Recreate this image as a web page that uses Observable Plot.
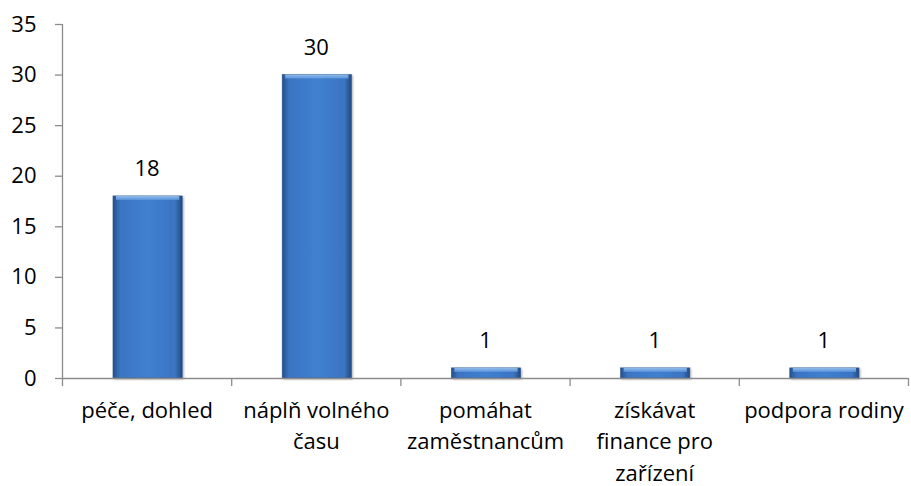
<!DOCTYPE html>
<html><head><meta charset="utf-8">
<script src="https://cdn.jsdelivr.net/npm/d3@7"></script>
<script src="https://cdn.jsdelivr.net/npm/@observablehq/plot@0.6"></script>
<style>body{margin:0;background:#fff}</style>
</head><body><div id="chart"></div>
<script>
const categories = ["péče, dohled", "náplň volného\nčasu", "pomáhat\nzaměstnancům", "získávat\nfinance pro\nzařízení", "podpora rodiny"];
const values = [18, 30, 1, 1, 1];
const yTicks = [0, 5, 10, 15, 20, 25, 30, 35];

const data = categories.map((c, i) => ({i, c, v: values[i]}));
const font = "'Open Sans', sans-serif";
const fs = 22;

const withShadow = (index, scales, values, dims, context, next) => {
  const g = next(index, scales, values, dims, context);
  g.setAttribute("filter", "url(#sh)");
  return g;
};

const chart = Plot.plot({
  width: 911, height: 486,
  marginLeft: 62, marginRight: 3, marginTop: 24, marginBottom: 108,
  style: {fontFamily: font, fontSize: fs + "px", color: "#000", background: "#fff", overflow: "visible"},
  x: {type: "linear", domain: [0, categories.length], axis: null},
  y: {domain: [0, 35], axis: null},
  marks: [
    () => {
      const ns = "http://www.w3.org/2000/svg";
      const defs = document.createElementNS(ns, "defs");
      defs.innerHTML = `
        <linearGradient id="gb" x1="0" x2="1" y1="0" y2="0">
          <stop offset="0" stop-color="#24508c"/>
          <stop offset="0.1" stop-color="#3a74c2"/>
          <stop offset="0.5" stop-color="#4080d0"/>
          <stop offset="0.9" stop-color="#3a74c2"/>
          <stop offset="1" stop-color="#22497f"/>
        </linearGradient>
        <linearGradient id="gt" x1="0" x2="0" y1="0" y2="1">
          <stop offset="0" stop-color="#a9cdf5"/>
          <stop offset="1" stop-color="#5f98de"/>
        </linearGradient>
        <filter id="sh" x="-20%" y="-20%" width="140%" height="140%">
          <feDropShadow dx="1" dy="1" stdDeviation="1.2" flood-color="#000" flood-opacity="0.35"/>
        </filter>`;
      return defs;
    },
    Plot.rectY(data, {x1: "i", x2: d => d.i + 1, y: "v", insetLeft: 51, insetRight: 49,
      fill: "url(#gb)", stroke: "#2a568f", strokeWidth: 0.6, render: withShadow}),
    Plot.rectY(data, {x1: "i", x2: d => d.i + 1, y1: "v", y2: "v", insetLeft: 54, insetRight: 52,
      insetTop: 0, insetBottom: -4, fill: "url(#gt)", fillOpacity: 0.8}),
    Plot.ruleY([0], {stroke: "#8c8c8c", strokeWidth: 1.3}),
    Plot.ruleX([0], {stroke: "#8c8c8c", strokeWidth: 1.3}),
    Plot.axisY({ticks: yTicks, tickSize: 7, tickPadding: 19, stroke: "#8c8c8c", strokeWidth: 1.3,
      fontSize: fs, fill: "#000", label: null}),
    Plot.axisX({ticks: d3.range(categories.length + 1), tickSize: 8, tickFormat: () => "",
      stroke: "#8c8c8c", strokeWidth: 1.3, label: null}),
    Plot.axisX({ticks: categories.map((c, i) => i + 0.5), tickSize: 0, tickPadding: 17,
      tickFormat: x => categories[Math.floor(x)], lineHeight: 31.5 / fs, fontSize: fs, fill: "#000", label: null}),
    Plot.text(data, {x: d => d.i + 0.5, y: "v", text: d => String(d.v), dy: -27, fontSize: fs, fill: "#000"})
  ]
});
document.getElementById("chart").append(chart);
</script></body></html>
